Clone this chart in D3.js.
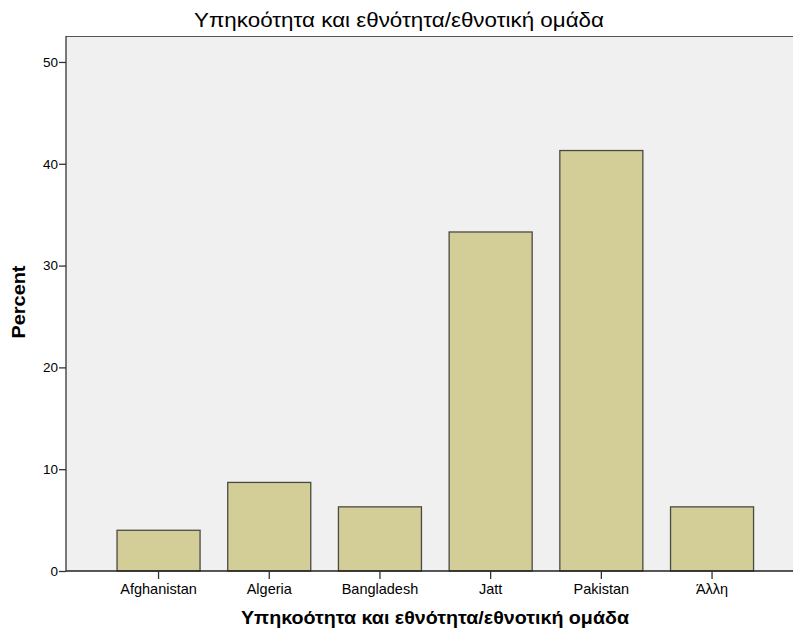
<!DOCTYPE html>
<html>
<head>
<meta charset="utf-8">
<script src="https://cdn.jsdelivr.net/npm/d3@7"></script>
<style>
  body { margin: 0; background: #ffffff; }
  svg { display: block; }
  text { font-family: "Liberation Sans", Arial, sans-serif; fill: #000; }
</style>
</head>
<body>
<svg id="chart" width="793" height="631"></svg>
<script>
const categories = ["Afghanistan", "Algeria", "Bangladesh", "Jatt", "Pakistan", "Άλλη"];
const percents = [4.0, 8.7, 6.3, 33.3, 41.3, 6.3];
const yTicks = [0, 10, 20, 30, 40, 50];
const chartTitle = "Υπηκοότητα και εθνότητα/εθνοτική ομάδα";
const xTitle = "Υπηκοότητα και εθνότητα/εθνοτική ομάδα";
const yTitle = "Percent";

const svg = d3.select("#chart");
const plot = { left: 66, top: 36, right: 793, bottom: 571 };

const y = d3.scaleLinear().domain([0, 52.55]).range([plot.bottom, plot.top]);
const x = d3.scaleBand().domain(categories)
  .range([103.2, 767.4]).paddingInner(0.25).paddingOuter(0.125);

svg.append("rect")
  .attr("x", plot.left).attr("y", plot.top)
  .attr("width", plot.right - plot.left).attr("height", plot.bottom - plot.top)
  .attr("fill", "#f0f0f0");

svg.append("line").attr("x1", plot.left).attr("x2", plot.right)
  .attr("y1", plot.top + 0.5).attr("y2", plot.top + 0.5)
  .attr("stroke", "#555").attr("stroke-width", 1.2);

svg.append("g").selectAll("rect").data(categories).join("rect")
  .attr("x", d => x(d))
  .attr("y", (d, i) => y(percents[i]))
  .attr("width", x.bandwidth())
  .attr("height", (d, i) => y(0) - y(percents[i]))
  .attr("fill", "#d3ce98")
  .attr("stroke", "#4a4a44")
  .attr("stroke-width", 1.3);

const yAxis = svg.append("g").attr("transform", `translate(${plot.left},0)`)
  .call(d3.axisLeft(y).tickValues(yTicks).tickSize(7).tickPadding(1).tickFormat(d3.format("d")));
yAxis.select(".domain").attr("d", `M0,${plot.top}V${plot.bottom}`).attr("stroke", "#333").attr("stroke-width", 1.3);
yAxis.selectAll(".tick line").attr("stroke", "#333").attr("stroke-width", 1.3);
yAxis.selectAll(".tick text").attr("font-size", 13.5).attr("fill", "#222")
  .style("font-family", '"Liberation Sans", Arial, sans-serif');

const xAxis = svg.append("g").attr("transform", `translate(0,${plot.bottom})`)
  .call(d3.axisBottom(x).tickSize(8).tickPadding(5));
xAxis.select(".domain").attr("d", `M${plot.left},0H${plot.right}`).attr("stroke", "#222").attr("stroke-width", 1.3);
xAxis.selectAll(".tick line").attr("stroke", "#333").attr("stroke-width", 1.3);
xAxis.selectAll(".tick text").attr("font-size", 14.5).attr("fill", "#222")
  .style("font-family", '"Liberation Sans", Arial, sans-serif');

svg.append("text").attr("x", 399).attr("y", 27)
  .attr("text-anchor", "middle").attr("font-size", 21)
  .attr("textLength", 410).attr("lengthAdjust", "spacingAndGlyphs")
  .text(chartTitle);
svg.append("text").attr("x", 435).attr("y", 624)
  .attr("text-anchor", "middle").attr("font-size", 18.5).attr("font-weight", "bold")
  .attr("textLength", 388).attr("lengthAdjust", "spacingAndGlyphs")
  .text(xTitle);
svg.append("text").attr("transform", `translate(25,302) rotate(-90)`)
  .attr("text-anchor", "middle").attr("font-size", 19).attr("font-weight", "bold")
  .attr("textLength", 73).attr("lengthAdjust", "spacingAndGlyphs")
  .text(yTitle);
</script>
</body>
</html>
